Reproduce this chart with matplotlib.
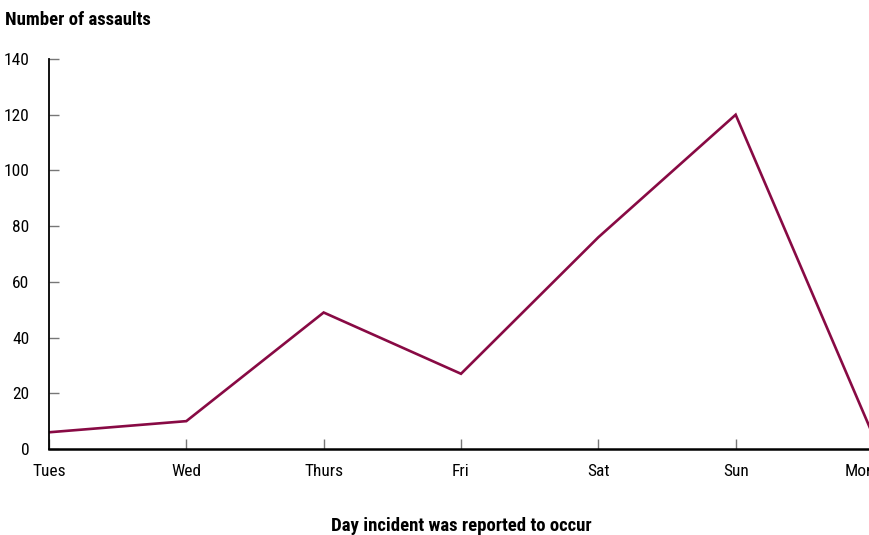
import matplotlib
matplotlib.use('Agg')
import matplotlib.pyplot as plt
import matplotlib.transforms as mtransforms

plt.rcParams['font.family'] = ['Roboto Condensed', 'Liberation Sans Narrow',
                               'Liberation Sans', 'DejaVu Sans']

# Dados
days = ['Tues', 'Wed', 'Thurs', 'Fri', 'Sat', 'Sun', 'Mon']
assaults = [6, 10, 49, 27, 76, 120, 5]
y_ticks = [0, 20, 40, 60, 80, 100, 120, 140]

fig = plt.figure(figsize=(8.69, 5.35), dpi=100)
# eixo estendido um pouco além da borda direita (Mon fica cortado)
ax = fig.add_axes([49 / 869, 86 / 535, 824 / 869, 390 / 535])

x = list(range(len(days)))
ax.plot(x, assaults, color='#880a44', linewidth=1.9, solid_joinstyle='miter')

ax.set_xlim(0, 6)
ax.set_ylim(0, 140)
ax.set_xticks(x)
ax.set_xticklabels(days)
ax.set_yticks(y_ticks)

for s in ['top', 'right']:
    ax.spines[s].set_visible(False)
ax.spines['bottom'].set_linewidth(1.8)
ax.spines['left'].set_linewidth(1.3)

ax.tick_params(axis='both', direction='in', length=7, width=1, color='#777777',
               labelsize=12.5)
ax.tick_params(axis='y', pad=14)
ax.tick_params(axis='x', pad=11)

# último rótulo (Mon) um pouco deslocado para a esquerda, como no original
last = ax.get_xticklabels()[-1]
last.set_transform(last.get_transform() +
                   mtransforms.ScaledTranslation(-13 / 100, 0, fig.dpi_scale_trans))

ax.set_xlabel('Day incident was reported to occur', fontsize=13.5, fontweight='bold',
              labelpad=27)
fig.text(5 / 869, 1 - 20 / 535, 'Number of assaults', fontsize=13.5, fontweight='bold',
         va='center', ha='left')

fig.savefig('out.png', dpi=100)
